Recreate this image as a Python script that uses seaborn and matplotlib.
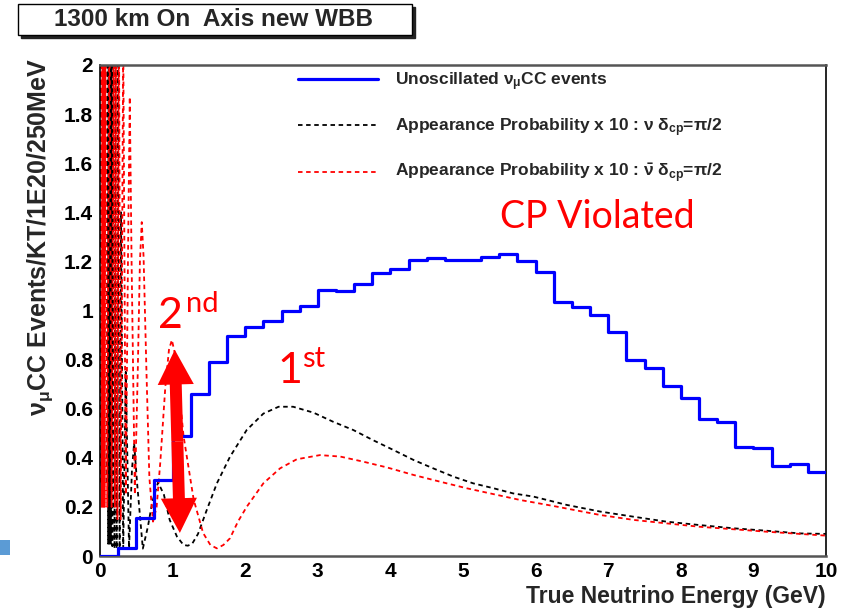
import numpy as np
import pandas as pd
import matplotlib
matplotlib.use("Agg")
import matplotlib.pyplot as plt
import seaborn as sns
from matplotlib.patches import FancyArrowPatch, Rectangle
from matplotlib.ticker import MultipleLocator, FuncFormatter

# ---------------- data ----------------
bin_width = 0.25  # GeV (250 MeV bins)
numu_cc = [0.0, 0.033, 0.155, 0.31, 0.49, 0.66, 0.79, 0.895, 0.934, 0.958,
           0.999, 1.02, 1.083, 1.079, 1.108, 1.154, 1.17, 1.206, 1.212, 1.206,
           1.206, 1.219, 1.229, 1.2, 1.158, 1.036, 1.016, 0.982, 0.914, 0.798,
           0.767, 0.692, 0.642, 0.557, 0.547, 0.445, 0.439, 0.368, 0.373, 0.341]

# appearance probability x10, neutrino, delta_cp = pi/2
E_nu = [0.09, 0.105, 0.112, 0.12, 0.13, 0.14, 0.15, 0.16, 0.17, 0.185, 0.2,
        0.215, 0.23, 0.25, 0.27, 0.29, 0.32, 0.355, 0.40, 0.44, 0.47, 0.51,
        0.59, 0.66, 0.72, 0.8, 0.88, 0.96, 1.06, 1.15, 1.21, 1.27, 1.35, 1.47,
        1.61, 1.79, 2.02, 2.25, 2.46, 2.66, 2.94, 3.21, 3.49, 3.76, 4.04, 4.32,
        4.59, 4.87, 5.14, 5.42, 5.69, 5.97, 6.43, 6.89, 7.35, 7.8, 8.26, 8.72,
        9.18, 9.64, 10.0]
P_nu = [0.3, 2.3, 0.05, 2.3, 0.05, 2.3, 0.05, 2.3, 0.04, 2.3, 0.03,
        2.3, 0.03, 2.3, 0.03, 1.4, 0.03, 0.75, 0.03, 0.35, 0.46, 0.3,
        0.03, 0.12, 0.22, 0.3, 0.25, 0.147, 0.079, 0.045, 0.042, 0.05, 0.09, 0.187,
        0.296, 0.404, 0.513, 0.58, 0.608, 0.608, 0.584, 0.547, 0.513, 0.472, 0.432, 0.391,
        0.357, 0.323, 0.296, 0.276, 0.255, 0.242, 0.208, 0.181, 0.16, 0.14, 0.126, 0.113,
        0.103, 0.092, 0.09]

# appearance probability x10, antineutrino, delta_cp = pi/2
E_nubar = [0.005, 0.015, 0.025, 0.035, 0.045, 0.055, 0.065, 0.075, 0.1, 0.13,
           0.16, 0.19, 0.205, 0.22, 0.24, 0.26, 0.285, 0.32, 0.355, 0.385,
           0.41, 0.435, 0.48, 0.52, 0.55, 0.575, 0.6, 0.64, 0.68, 0.73,
           0.78, 0.83, 0.9, 0.95, 0.99, 1.05, 1.15, 1.29, 1.42, 1.52,
           1.61, 1.7, 1.79, 1.9, 2.02, 2.25, 2.48, 2.71, 3.03, 3.31,
           3.63, 3.95, 4.32, 4.68, 5.05, 5.42, 5.79, 6.24, 6.89, 7.35,
           7.8, 8.26, 8.72, 9.18, 9.64, 10.0]
P_nubar = [0.3, 2.3, 0.2, 2.3, 0.2, 2.3, 0.2, 2.3, 0.2, 2.3,
           0.2, 2.3, 0.2, 2.3, 0.15, 2.3, 0.15, 2.1, 0.25, 1.2,
           1.87, 1.2, 0.25, 0.75, 1.2, 1.36, 1.22, 0.75, 0.32, 0.14,
           0.2, 0.38, 0.69, 0.84, 0.88, 0.8, 0.49, 0.23, 0.094, 0.045,
           0.031, 0.045, 0.072, 0.14, 0.2, 0.296, 0.357, 0.394, 0.411, 0.405,
           0.384, 0.361, 0.33, 0.303, 0.276, 0.252, 0.228, 0.204, 0.167, 0.147,
           0.133, 0.119, 0.109, 0.099, 0.09, 0.083]

x_ticks = [0, 1, 2, 3, 4, 5, 6, 7, 8, 9, 10]
y_ticks = [0, 0.2, 0.4, 0.6, 0.8, 1.0, 1.2, 1.4, 1.6, 1.8, 2.0]

labels = ["Unoscillated $\\mathrm{\\nu}_{\\mathrm{\\mu}}$CC events",
          "Appearance Probability x 10 : $\\mathrm{\\nu}$ $\\mathrm{\\delta}_{\\mathbf{cp}}$=$\\mathrm{\\pi}$/2",
          "Appearance Probability x 10 : $\\bar{\\mathrm{\\nu}}$ $\\mathrm{\\delta}_{\\mathbf{cp}}$=$\\mathrm{\\pi}$/2"]

# ---------------- styling ----------------
sns.set_theme(style="white")
plt.rcParams["font.family"] = ["Liberation Sans", "DejaVu Sans"]
plt.rcParams["font.weight"] = "bold"
plt.rcParams["mathtext.fontset"] = "custom"
plt.rcParams["mathtext.rm"] = "Liberation Sans"
plt.rcParams["mathtext.it"] = "Liberation Sans:italic"
plt.rcParams["mathtext.bf"] = "Liberation Sans:bold"

fig = plt.figure(figsize=(8.44, 6.10), dpi=100)
W, H = 844, 610
ax = fig.add_axes([100 / W, 1 - 556 / H, 726 / W, 491 / H])

# histogram drawn as a step outline: bin edges with the last height repeated
edges = np.arange(len(numu_cc) + 1) * bin_width
hist_df = pd.DataFrame({"E": edges, "N": list(numu_cc) + [numu_cc[-1]]})
sns.lineplot(data=hist_df, x="E", y="N", drawstyle="steps-post", color="#0000ff",
             linewidth=2.3, ax=ax, zorder=3, estimator=None)

nu_df = pd.DataFrame({"E": E_nu, "P": P_nu})
sns.lineplot(data=nu_df, x="E", y="P", color="black", linewidth=1.3, ax=ax, zorder=2,
             estimator=None)
ax.lines[-1].set_dashes([2.5, 2.0])
nubar_df = pd.DataFrame({"E": E_nubar, "P": P_nubar})
sns.lineplot(data=nubar_df, x="E", y="P", color="#ff0000", linewidth=1.3, ax=ax, zorder=2,
             estimator=None)
ax.lines[-1].set_dashes([2.5, 2.0])

ax.set_xlim(0, 10)
ax.set_ylim(0, 2)
ax.set_xticks(x_ticks)
ax.set_yticks(y_ticks)
ax.xaxis.set_minor_locator(MultipleLocator(0.2))
ax.yaxis.set_minor_locator(MultipleLocator(0.05))
fmt = FuncFormatter(lambda v, p: f"{v:g}")
ax.xaxis.set_major_formatter(fmt)
ax.yaxis.set_major_formatter(fmt)
ax.tick_params(axis="both", which="both", direction="in", top=False, right=False,
               colors="black", width=0.8, labelsize=15)
ax.tick_params(axis="x", which="major", length=10.8, pad=4)
ax.tick_params(axis="x", which="minor", length=5)
ax.tick_params(axis="y", which="major", length=15.8, pad=5)
ax.tick_params(axis="y", which="minor", length=7.2)
for lab in ax.get_xticklabels() + ax.get_yticklabels():
    lab.set_fontweight("bold")
for s in ["left", "right"]:
    ax.spines[s].set_color("black")
    ax.spines[s].set_linewidth(1.2)
for s in ["top", "bottom"]:
    ax.spines[s].set_color("#555555")
    ax.spines[s].set_linewidth(1.8)

ax.set_xlabel("True Neutrino Energy (GeV)", fontsize=16.5, fontweight="bold", loc="right")
ax.set_ylabel("$\\mathrm{\\nu}_{\\mathrm{\\mu}}$CC Events/KT/1E20/250MeV", fontsize=18,
              fontweight="bold", loc="top")
ax.xaxis.set_label_coords(1.0, -0.06)
ax.yaxis.set_label_coords(-0.062, 1.014)

handles = [ax.lines[0], ax.lines[1], ax.lines[2]]
leg = ax.legend(handles=handles, labels=labels, loc="upper left",
                bbox_to_anchor=(0.273, 0.99), frameon=False, fontsize=12.5,
                handlelength=4.6, handletextpad=1.0, labelspacing=1.35,
                borderpad=0, borderaxespad=0)
for t in leg.get_texts():
    t.set_fontweight("bold")

# annotations
red = "#ff0000"
afont = ["Lato", "DejaVu Sans"]
ax.text(5.51, 1.336, "CP Violated", color=red, fontsize=27, family=afont,
        fontweight="normal", va="baseline", ha="left", zorder=5)
ax.text(0.80, 0.93, "2", color=red, fontsize=31, family=afont,
        fontweight="normal", va="baseline", ha="left", zorder=5)
ax.text(1.18, 0.994, "nd", color=red, fontsize=21, family=afont,
        fontweight="normal", va="baseline", ha="left", zorder=5)
ax.text(2.45, 0.705, "1", color=red, fontsize=31, family=afont,
        fontweight="normal", va="baseline", ha="left", zorder=5)
ax.text(2.78, 0.77, "st", color=red, fontsize=21, family=afont,
        fontweight="normal", va="baseline", ha="left", zorder=5)

mid = (1.065, 0.467)
for tip in [(1.03, 0.84), (1.10, 0.094)]:
    arr = FancyArrowPatch(mid, tip, arrowstyle="simple,head_length=25,head_width=26,tail_width=8.6",
                          mutation_scale=1, color=red, linewidth=0, zorder=6,
                          shrinkA=0, shrinkB=0)
    ax.add_patch(arr)

# title box with shadow
fig.patches.append(Rectangle((21 / W, 1 - 38 / H), 394 / W, 31 / H, transform=fig.transFigure,
                             facecolor="#222222", edgecolor="#222222", zorder=1))
fig.patches.append(Rectangle((18 / W, 1 - 35 / H), 394 / W, 31 / H, transform=fig.transFigure,
                             facecolor="white", edgecolor="black", linewidth=1.0, zorder=2))
fig.text(214 / W, 1 - 20 / H, "1300 km On  Axis new WBB", fontsize=17.5, fontweight="bold",
         ha="center", va="center", zorder=3)

# slide artifact square bottom-left
fig.patches.append(Rectangle((0, 1 - 555 / H), 10 / W, 15 / H, transform=fig.transFigure,
                             facecolor="#5b9bd5", edgecolor="none"))

fig.savefig("out.png", dpi=100)
